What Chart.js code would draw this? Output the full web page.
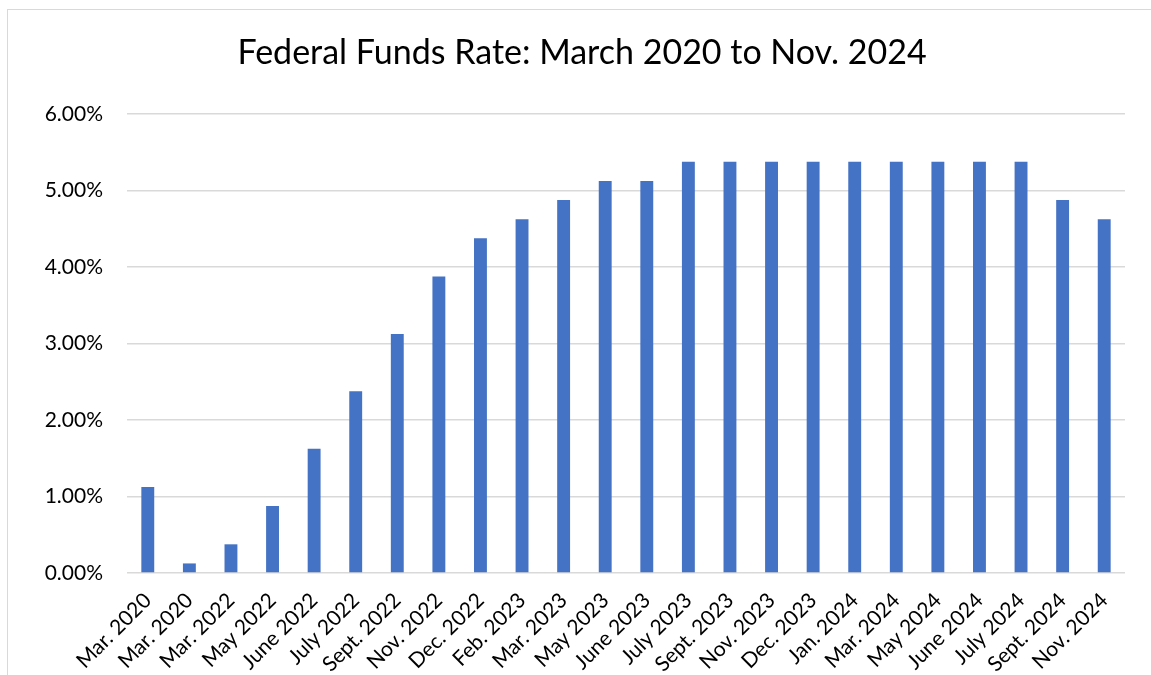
<!DOCTYPE html>
<html>
<head>
<meta charset="utf-8">
<script src="https://cdn.jsdelivr.net/npm/chart.js@4.4.1/dist/chart.umd.min.js"></script>
<style>
  html, body { margin: 0; padding: 0; background: #ffffff; overflow: hidden; }
  #wrap { position: relative; width: 1151px; height: 675px; overflow: hidden; }
  #frame { position: absolute; left: 7px; top: 9px; width: 1200px; height: 700px; border: 1px solid #d9d9d9; box-sizing: border-box; pointer-events: none; }
  canvas { position: absolute; left: 0; top: 0; }
</style>
</head>
<body>
<div id="wrap">
  <canvas id="c" width="1151" height="675"></canvas>
  <div id="frame"></div>
</div>
<script>
const categories = ["Mar. 2020", "Mar. 2020", "Mar. 2022", "May 2022", "June 2022", "July 2022", "Sept. 2022", "Nov. 2022", "Dec. 2022", "Feb. 2023", "Mar. 2023", "May 2023", "June 2023", "July 2023", "Sept. 2023", "Nov. 2023", "Dec. 2023", "Jan. 2024", "Mar. 2024", "May 2024", "June 2024", "July 2024", "Sept. 2024", "Nov. 2024"];
const rateValues = [1.125, 0.125, 0.375, 0.875, 1.625, 2.375, 3.125, 3.875, 4.375, 4.625, 4.875, 5.125, 5.125, 5.375, 5.375, 5.375, 5.375, 5.375, 5.375, 5.375, 5.375, 5.375, 4.875, 4.625];
const yTicks = [0, 1, 2, 3, 4, 5, 6];
const titleText = "Federal Funds Rate: March 2020 to Nov. 2024";

const FONT = "Lato, 'Open Sans', sans-serif";

new Chart(document.getElementById('c'), {
  type: 'bar',
  data: {
    labels: categories,
    datasets: [{
      data: rateValues,
      backgroundColor: '#4472C4',
      borderWidth: 0,
      barPercentage: 0.62,
      categoryPercentage: 0.5
    }]
  },
  options: {
    responsive: false,
    animation: false,
    devicePixelRatio: 1,
    layout: { padding: { left: 39, right: 26, top: 0, bottom: 0 } },
    plugins: {
      legend: { display: false },
      tooltip: { enabled: false },
      title: {
        display: true,
        text: titleText,
        color: '#000000',
        font: { family: FONT, size: 34, weight: 'normal', lineHeight: 1.2 },
        padding: { top: 33, bottom: 40.2 }
      }
    },
    scales: {
      x: {
        grid: { display: false, drawTicks: false },
        border: { display: false },
        ticks: {
          color: '#000000',
          font: { family: FONT, size: 21 },
          maxRotation: 45,
          minRotation: 45,
          autoSkip: false,
          padding: 15
        },
        afterFit: (s) => { s.height = 102; }
      },
      y: {
        min: 0,
        max: 6,
        afterBuildTicks: (s) => { s.ticks = yTicks.map(v => ({ value: v })); },
        grid: { color: '#d9d9d9', lineWidth: 1.5, drawTicks: false },
        border: { display: false },
        ticks: {
          color: '#000000',
          font: { family: FONT, size: 21 },
          padding: 24,
          callback: (v) => Number(v).toFixed(2) + '%'
        },
        afterFit: (s) => { s.width = 88; }
      }
    }
  }
});
</script>
</body>
</html>
